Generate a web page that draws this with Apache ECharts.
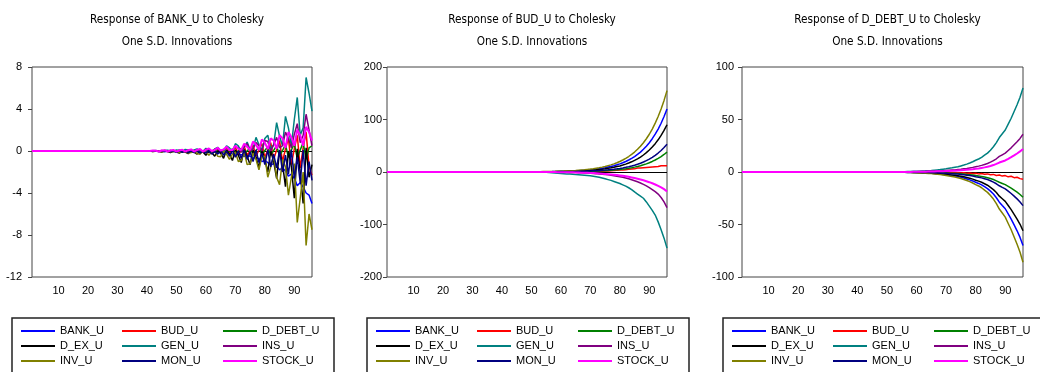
<!DOCTYPE html>
<html>
<head>
<meta charset="utf-8">
<script src="https://cdn.jsdelivr.net/npm/echarts@6/dist/echarts.min.js"></script>
<style>
  html, body { margin: 0; padding: 0; background: #fff; }
  #main { width: 1040px; height: 372px; }
</style>
</head>
<body>
<div id="main"></div>
<script>
// periods 1..96 on the x axis
const periods = Array.from({ length: 96 }, (_, i) => i + 1)
const xTickLabels = ['10', '20', '30', '40', '50', '60', '70', '80', '90']

const names = ['BANK_U', 'BUD_U', 'D_DEBT_U', 'D_EX_U', 'GEN_U', 'INS_U', 'INV_U', 'MON_U', 'STOCK_U']
const colors = ['#0000ff', '#ff0000', '#008000', '#000000', '#008080', '#800080', '#808000', '#000080', '#ff00ff']

const titles = [
  'Response of BANK_U to Cholesky\nOne S.D. Innovations',
  'Response of BUD_U to Cholesky\nOne S.D. Innovations',
  'Response of D_DEBT_U to Cholesky\nOne S.D. Innovations',
]

// y ranges
const yMin = [-12, -200, -100]
const yMax = [8, 200, 100]
const yStep = [4, 100, 50]

// panel 1: response of BANK_U, values from period 41 (zero before)
const bankStart = 41
const bank_BANK = [0, -0.02, 0, -0.03, 0, -0.05, -0.02, 0, -0.05, -0.05, 0, -0.08, -0.05, 0, -0.1, -0.08, 0, -0.12, -0.1, -0.05,
  -0.15, -0.12, -0.1, -0.2, -0.15, -0.15, -0.25, -0.2, -0.25, -0.35,
  -0.3, -0.35, -0.5, -0.4, -0.5, -0.7, -0.6, -0.75, -1.0, -0.9,
  -1.1, -1.35, -1.2, -1.4, -1.8, -1.6, -1.9, -2.4, -2.2, -2.6,
  -3.3, -3.0, -3.4, -4.0, -4.2, -5.0]
const bank_BUD = [0, 0, 0.03, -0.03, 0, 0.05, -0.05, 0, 0.05, -0.05, 0.02, 0.08, -0.08, 0, 0.1, -0.1, 0, 0.12, -0.12, 0.05,
  0.15, -0.15, 0.05, 0.2, -0.2, 0.05, 0.3, -0.25, 0, 0.35,
  -0.3, 0, 0.45, -0.4, 0, 0.55, -0.5, 0.1, 0.7, -0.6,
  0.1, 0.8, -0.8, 0.1, 1.0, -1.0, 0.2, 1.2, -1.3, 0.2,
  1.5, -1.6, 0.3, 1.8, -1.5, -2.3]
const bank_DDEBT = [0, 0.02, -0.02, 0, 0.03, -0.03, 0, 0.04, -0.04, 0, 0.05, -0.05, 0, 0.06, -0.06, 0, 0.08, -0.08, 0, 0.1,
  -0.1, 0, 0.12, -0.12, 0, 0.15, -0.15, 0, 0.2, -0.2,
  0, 0.25, -0.25, 0, 0.3, -0.3, 0.05, 0.35, -0.35, 0.05,
  0.4, -0.4, 0.05, 0.5, -0.5, 0.05, 0.6, -0.6, 0.1, 0.7,
  -0.7, 0.1, 0.8, -0.8, 0.3, 0.5]
const bank_DEX = [0, -0.05, 0.02, -0.05, -0.1, 0, -0.05, -0.15, 0, -0.1, -0.2, 0, -0.1, -0.25, 0.05, -0.1, -0.3, 0.05, -0.1, -0.4,
  0, -0.15, -0.5, 0.05, -0.2, -0.7, 0.1, -0.3, -0.9, 0.1,
  -0.4, -1.1, 0.15, -0.5, -1.3, 0.1, -0.6, -1.6, 0.1, -0.8,
  -2.0, 0, -1.0, -2.6, 0, -1.2, -3.4, 0, -1.5, -4.5,
  0.2, -2.0, -5.0, 0.3, -2.5, -1.3]
const bank_GEN = [0, 0.02, 0.05, 0, -0.02, 0.05, 0.08, 0, -0.03, 0.1, 0.05, -0.05, 0.15, 0.1, -0.05, 0.1, 0.2, 0, -0.05, 0.25,
  0.15, -0.1, 0.2, 0.35, 0, -0.1, 0.5, 0.3, -0.1, 0.7,
  0.5, -0.1, 0.4, 0.85, 0.1, 0.2, 1.3, 0.6, 0.1, 1.2,
  1.5, 0.2, 0.6, 2.7, 1.4, 0.5, 3.3, 2.2, 0.5, 3.0,
  5.1, 1.5, 2.2, 7.0, 5.5, 3.8]
const bank_INS = [0, 0.03, 0, -0.02, 0.05, 0, -0.03, 0.06, 0.02, -0.03, 0.08, 0.05, -0.03, 0.1, 0.08, -0.05, 0.12, 0.1, -0.05, 0.15,
  0.15, -0.08, 0.15, 0.25, -0.05, 0.1, 0.35, 0.1, -0.05, 0.45,
  0.3, -0.1, 0.4, 0.7, 0, 0.2, 0.8, 0.5, 0, 1.0,
  0.9, 0, 0.6, 1.3, 0.3, 0.5, 1.8, 1.2, 0.3, 1.6,
  2.6, 0.8, 1.5, 3.5, 2.0, 0.5]
const bank_INV = [0, -0.05, -0.02, 0, -0.08, -0.03, 0, -0.1, -0.05, 0, -0.15, -0.1, 0, -0.2, -0.15, 0, -0.25, -0.3, 0, -0.1,
  -0.4, -0.1, 0, -0.5, -0.55, 0, -0.3, -0.8, -0.3, -0.1,
  -1.0, -0.9, -0.1, -1.3, -1.2, -0.2, -0.8, -1.8, -0.5, -0.5,
  -2.5, -1.5, -0.5, -2.5, -3.2, -0.8, -1.5, -4.2, -2.5, -1.2,
  -6.8, -4.5, -2.0, -9.0, -6.0, -7.5]
const bank_MON = [0, -0.03, 0, -0.05, 0.02, -0.06, 0, -0.08, 0.03, -0.1, 0, -0.12, 0.03, -0.15, 0, -0.15, 0.05, -0.2, 0, -0.2,
  0.05, -0.3, 0, -0.3, 0.05, -0.4, 0, -0.5, 0.1, -0.6,
  0, -0.7, 0.1, -0.8, -0.1, -1.0, 0.1, -1.1, -0.2, -1.3,
  0.1, -1.5, -0.3, -1.6, 0.1, -2.0, -0.4, -2.2, 0.1, -2.6,
  -0.6, -3.0, 0.1, -3.3, -1.0, -2.8]
const bank_STOCK = [0, 0.05, 0.02, -0.05, 0.05, 0.08, -0.05, 0.05, 0.1, -0.05, 0.05, 0.12, -0.05, 0.08, 0.15, -0.05, 0.1, 0.2, -0.05, 0.1,
  0.25, 0, 0.1, 0.3, 0.05, 0.15, 0.4, 0.1, 0.1, 0.5,
  0.2, 0.1, 0.7, 0.4, 0.1, 0.9, 0.6, 0.1, 1.1, 0.8,
  0.2, 1.2, 1.0, 0.2, 1.5, 1.2, 0.3, 1.8, 1.3, 0.5,
  2.0, 1.5, 0.5, 2.3, 1.8, 1.0]

// panel 2: response of BUD_U, values from period 51
const budStart = 51
const bud_BANK = [0.4, 0.5, 0.5, 0.6, 0.6, 0.7, 0.8, 1.0, 1.1, 1.2,
  1.3, 1.6, 1.8, 2.0, 2.3, 2.6, 3.0, 3.4, 3.8, 4.3,
  4.9, 5.6, 6.4, 7.2, 8.2, 9.4, 10.6, 12.0, 13.7, 15.5,
  17.6, 20.0, 22.8, 25.9, 29.4, 33.5, 37.9, 43.2, 49.1, 55.7,
  63.4, 72.0, 81.7, 92.9, 105.6, 120]
const bud_BUD = [0, 0, 0, 0, 0, 0, 0, 0, 0, 0.1,
  0.1, 0.2, 0.2, 0.3, 0.3, 0.4, 0.5, 0.6, 0.7, 0.8,
  1.0, 1.2, 1.4, 1.6, 1.8, 2.1, 2.4, 2.8, 3.2, 3.6,
  4.0, 4.5, 5.0, 5.5, 6.0, 7.5, 7.5, 8.0, 8.5, 9.0,
  9.5, 10.0, 10.5, 12.0, 12.0, 12.0]
const bud_DDEBT = [0.1, 0.2, 0.2, 0.2, 0.2, 0.2, 0.3, 0.3, 0.3, 0.4,
  0.4, 0.5, 0.6, 0.6, 0.7, 0.8, 1.0, 1.1, 1.2, 1.4,
  1.6, 1.8, 2.0, 2.3, 2.6, 3.0, 3.3, 3.8, 4.3, 4.9,
  5.6, 6.3, 7.2, 8.2, 9.3, 10.6, 12.0, 13.7, 15.5, 17.6,
  20.1, 22.8, 25.9, 29.4, 33.4, 38]
const bud_DEX = [0.3, 0.4, 0.4, 0.5, 0.5, 0.5, 0.6, 0.7, 0.8, 0.9,
  1.0, 1.2, 1.4, 1.5, 1.7, 2.0, 2.3, 2.5, 2.9, 3.2,
  3.7, 4.2, 4.8, 5.4, 6.1, 7.0, 7.9, 9.0, 10.3, 11.6,
  13.2, 15.0, 17.1, 19.4, 22.1, 25.1, 28.4, 32.4, 36.8, 41.8,
  47.5, 54.0, 61.3, 69.7, 79.2, 90]
const bud_GEN = [0, 0, 0, 0, -0.5, -1, -1.5, -2, -2.5, -3,
  -3.3, -3.7, -4, -4.5, -5, -5.3, -5.7, -6.1, -6.5, -7,
  -8, -9, -10, -11.5, -13, -14.5, -16, -18, -20, -22,
  -24.5, -27, -30, -33.5, -38, -42, -46, -50, -57, -65,
  -73, -82, -95, -110, -126, -145]
const bud_INS = [0, 0, -0.1, -0.1, -0.2, -0.2, -0.3, -0.3, -0.4, -0.5,
  -0.6, -0.7, -0.8, -1.0, -1.1, -1.3, -1.5, -1.8, -2.0, -2.3,
  -2.7, -3.1, -3.6, -4.1, -4.7, -5.4, -6.2, -7.0, -8.0, -9.0,
  -10.2, -11.5, -13.0, -14.7, -16.6, -18.7, -21.0, -23.6, -26.5, -29.8,
  -33.4, -37.5, -42.1, -48.5, -57.0, -68]
const bud_INV = [0.5, 0.6, 0.6, 0.8, 0.8, 0.9, 1.1, 1.2, 1.4, 1.6,
  1.7, 2.0, 2.3, 2.6, 2.9, 3.4, 3.9, 4.3, 5.0, 5.6,
  6.4, 7.3, 8.2, 9.3, 10.5, 12.1, 13.6, 15.5, 17.7, 20.0,
  22.8, 25.9, 29.5, 33.5, 38.0, 43.2, 49.0, 55.8, 63.4, 71.9,
  81.8, 93.0, 105.6, 120.0, 136.4, 155]
const bud_MON = [0.2, 0.2, 0.2, 0.3, 0.3, 0.3, 0.4, 0.4, 0.5, 0.5,
  0.6, 0.7, 0.8, 0.9, 1.0, 1.2, 1.3, 1.5, 1.7, 1.9,
  2.2, 2.5, 2.8, 3.2, 3.6, 4.1, 4.7, 5.3, 6.0, 6.8,
  7.8, 8.9, 10.1, 11.4, 13.0, 14.8, 16.7, 19.1, 21.7, 24.6,
  28.0, 31.8, 36.1, 41.0, 46.6, 53]
const bud_STOCK = [0, 0, 0, 0, -0.1, -0.1, -0.2, -0.2, -0.3, -0.3,
  -0.4, -0.5, -0.6, -0.7, -0.8, -1.0, -1.2, -1.4, -1.6, -1.8,
  -2.1, -2.4, -2.8, -3.2, -3.6, -4.1, -4.6, -5.2, -5.8, -6.5,
  -7.3, -8.2, -9.2, -10.3, -11.5, -12.8, -14.2, -15.8, -17.5, -19.4,
  -21.5, -23.8, -26.3, -29.2, -32.6, -37]

// panel 3: response of D_DEBT_U, values from period 51
const debtStart = 51
const debt_BANK = [0, 0, 0, -0.1, -0.2, -0.3, -0.4, -0.4, -0.5, -0.6,
  -0.7, -0.8, -1, -1.1, -1.3, -1.5, -1.8, -2, -2.4, -2.7,
  -3.2, -3.5, -3.9, -4.4, -5, -5.7, -6.6, -7.5, -8.5, -9.8,
  -10.9, -12.3, -14, -15.8, -18.2, -21, -24.5, -28.7, -31.9, -35,
  -39.9, -44.8, -50.4, -56, -62.3, -70]
const debt_BUD = [0, 0, 0, 0, 0, 0, -0.1, 0, -0.1, -0.1,
  -0.1, -0.2, -0.1, -0.2, -0.3, -0.2, -0.4, -0.3, -0.5, -0.4,
  -0.6, -0.5, -0.8, -0.6, -1, -0.8, -1.2, -1, -1.5, -1.2,
  -1.8, -1.5, -2.2, -1.8, -2.7, -2.3, -3.3, -2.8, -3.9, -3.4,
  -4.6, -4.1, -5.4, -5, -6.3, -7]
const debt_DDEBT = [0, 0, 0, 0, -0.1, -0.1, -0.1, -0.1, -0.2, -0.2,
  -0.2, -0.3, -0.3, -0.4, -0.4, -0.5, -0.6, -0.7, -0.8, -0.9,
  -1.1, -1.2, -1.3, -1.5, -1.7, -2, -2.3, -2.6, -2.9, -3.4,
  -3.7, -4.2, -4.8, -5.4, -6.2, -7.2, -8.4, -9.8, -10.9, -12,
  -13.7, -15.4, -17.3, -19.2, -21.4, -24]
const debt_DEX = [0, 0, 0, -0.1, -0.2, -0.2, -0.3, -0.3, -0.4, -0.4,
  -0.6, -0.7, -0.8, -0.9, -1, -1.2, -1.4, -1.6, -1.9, -2.2,
  -2.5, -2.8, -3.1, -3.5, -4, -4.6, -5.3, -6, -6.8, -7.8,
  -8.7, -9.8, -11.2, -12.6, -14.6, -16.8, -19.6, -23, -25.5, -28,
  -31.9, -35.8, -40.3, -44.8, -49.8, -56]
const debt_GEN = [0, 0, 0, 0.2, 0.2, 0.3, 0.4, 0.5, 0.6, 0.6,
  0.8, 1, 1.1, 1.3, 1.4, 1.7, 2, 2.3, 2.7, 3.1,
  3.6, 4, 4.5, 5, 5.8, 6.6, 7.5, 8.6, 9.8, 11.2,
  12.4, 14, 16, 18, 20.8, 24, 28, 32.8, 36.4, 40,
  45.6, 51.2, 57.6, 64, 71.2, 80]
const debt_INS = [0, 0, 0, 0.1, 0.1, 0.1, 0.2, 0.2, 0.3, 0.3,
  0.4, 0.4, 0.5, 0.6, 0.6, 0.8, 0.9, 1, 1.2, 1.4,
  1.6, 1.8, 2, 2.3, 2.6, 3, 3.4, 3.9, 4.4, 5,
  5.6, 6.3, 7.2, 8.1, 9.4, 10.8, 12.6, 14.8, 16.4, 18,
  20.5, 23, 25.9, 28.8, 32, 36]
const debt_INV = [0, 0, 0, -0.2, -0.3, -0.3, -0.4, -0.5, -0.6, -0.7,
  -0.9, -1, -1.2, -1.4, -1.5, -1.8, -2.2, -2.5, -2.9, -3.4,
  -3.9, -4.3, -4.8, -5.4, -6.2, -7.1, -8.1, -9.2, -10.5, -12,
  -13.3, -15, -17.2, -19.4, -22.4, -25.8, -30.1, -35.3, -39.1, -43,
  -49, -55, -61.9, -68.8, -76.5, -86]
const debt_MON = [0, 0, 0, -0.1, -0.1, -0.1, -0.2, -0.2, -0.2, -0.3,
  -0.3, -0.4, -0.4, -0.5, -0.6, -0.7, -0.8, -0.9, -1.1, -1.2,
  -1.4, -1.6, -1.8, -2, -2.3, -2.6, -3, -3.4, -3.9, -4.5,
  -5, -5.6, -6.4, -7.2, -8.3, -9.6, -11.2, -13.1, -14.6, -16,
  -18.2, -20.5, -23, -25.6, -28.5, -32]
const debt_STOCK = [0, 0, 0, 0, 0.1, 0.1, 0.1, 0.1, 0.2, 0.2,
  0.2, 0.3, 0.3, 0.4, 0.4, 0.5, 0.6, 0.6, 0.7, 0.9,
  1, 1.1, 1.2, 1.4, 1.6, 1.8, 2.1, 2.4, 2.7, 3.1,
  3.4, 3.9, 4.4, 5, 5.7, 6.6, 7.7, 9, 10, 11,
  12.5, 14.1, 15.8, 17.6, 19.6, 22]

const panels = [
  { start: bankStart, data: [bank_BANK, bank_BUD, bank_DDEBT, bank_DEX, bank_GEN, bank_INS, bank_INV, bank_MON, bank_STOCK] },
  { start: budStart, data: [bud_BANK, bud_BUD, bud_DDEBT, bud_DEX, bud_GEN, bud_INS, bud_INV, bud_MON, bud_STOCK] },
  { start: debtStart, data: [debt_BANK, debt_BUD, debt_DDEBT, debt_DEX, debt_GEN, debt_INS, debt_INV, debt_MON, debt_STOCK] },
]

// layout of the three panels (pixels)
const gridLeft = [32, 387, 742]
const gridWidth = [280, 280, 281]
const yLabelMargin = [10, 5, 8]
const legendLeft = [12, 367, 723]
const FONT = 'Liberation Sans'
const TITLE_FONT = "'DejaVu Sans Condensed', 'Liberation Sans', sans-serif"

// responses are zero until the start period
function fullSeries(start, tail) {
  return periods.map(p => (p < start ? 0 : tail[p - start]))
}

// zero line only: one split line colour per tick, the zero tick is black
function zeroLineColors(k) {
  const out = []
  for (let v = yMin[k]; v <= yMax[k]; v += yStep[k]) {
    out.push(v === 0 ? '#000' : 'rgba(0,0,0,0)')
  }
  return out
}

const grid = []
const xAxis = []
const yAxis = []
const title = []
const legend = []
const series = []

panels.forEach((panel, k) => {
  grid.push({
    left: gridLeft[k],
    top: 67,
    width: gridWidth[k],
    height: 210,
    show: true,
    borderColor: '#444',
    borderWidth: 1,
    backgroundColor: '#fff',
  })
  xAxis.push({
    type: 'category',
    gridIndex: k,
    data: periods,
    boundaryGap: false,
    axisLine: { show: false },
    axisTick: { show: false },
    axisLabel: {
      interval: 0,
      margin: 8,
      color: '#000',
      fontSize: 11,
      fontFamily: FONT,
      formatter: v => (xTickLabels.includes(String(v)) ? String(v) : ''),
    },
    splitLine: { show: false },
  })
  yAxis.push({
    type: 'value',
    gridIndex: k,
    min: yMin[k],
    max: yMax[k],
    interval: yStep[k],
    axisLine: { show: false },
    axisTick: { show: true, length: 4, lineStyle: { color: '#444' } },
    axisLabel: { color: '#000', fontSize: 11, fontFamily: FONT, margin: yLabelMargin[k] },
    splitLine: { show: true, lineStyle: { color: zeroLineColors(k), width: 1 } },
  })
  title.push({
    text: titles[k],
    left: gridLeft[k] + gridWidth[k] / 2,
    top: 4,
    textAlign: 'center',
    textStyle: { fontSize: 11.7, fontWeight: 'normal', color: '#000', lineHeight: 22, fontFamily: TITLE_FONT },
  })
  legend.push({
    left: legendLeft[k],
    top: 318,
    width: 330,
    orient: 'horizontal',
    itemWidth: 34,
    itemHeight: 14,
    itemGap: 1,
    padding: [6, 12, 30, 8],
    borderColor: '#222',
    borderWidth: 1.5,
    selectedMode: false,
    itemStyle: { opacity: 0 },
    textStyle: { fontSize: 11, width: 60, color: '#000', fontFamily: FONT, lineHeight: 14 },
    data: names,
  })
  panel.data.forEach((tail, i) => {
    series.push({
      name: names[i],
      type: 'line',
      xAxisIndex: k,
      yAxisIndex: k,
      data: fullSeries(panel.start, tail),
      symbol: 'none',
      // STOCK_U is drawn last and hides the others along zero
      lineStyle: { width: names[i] === 'STOCK_U' ? 2 : 1.5, color: colors[i] },
      itemStyle: { color: colors[i] },
      animation: false,
    })
  })
})

const myChart = echarts.init(document.getElementById('main'))
const option = {
  backgroundColor: '#fff',
  animation: false,
  title,
  legend,
  grid,
  xAxis,
  yAxis,
  series,
}
myChart.setOption(option)
</script>
</body>
</html>
